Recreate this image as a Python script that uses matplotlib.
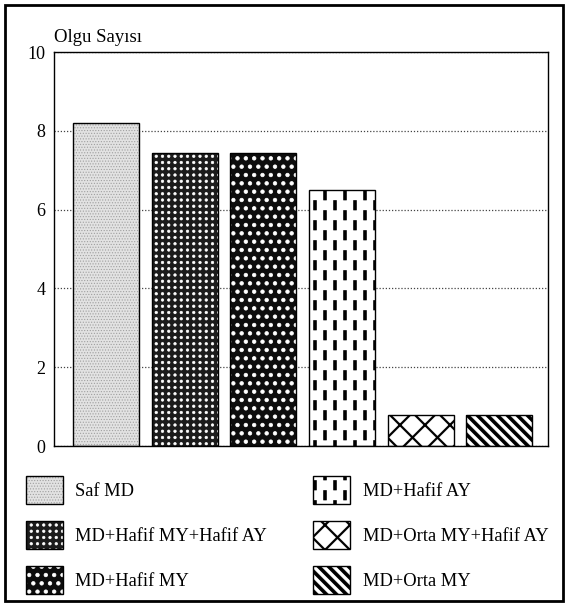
import numpy as np
import matplotlib
matplotlib.use("Agg")
import matplotlib.pyplot as plt
import matplotlib.hatch as mhatch
from matplotlib.path import Path
from matplotlib.patches import Rectangle

# data
groups = ['Saf MD', 'MD+Hafif MY+Hafif AY', 'MD+Hafif MY',
          'MD+Hafif AY', 'MD+Orta MY+Hafif AY', 'MD+Orta MY']
counts = [8.2, 7.45, 7.45, 6.5, 0.8, 0.8]
yticks = [0, 2, 4, 6, 8, 10]
ylabel = 'Olgu Sayısı'


# ---- custom hatch patterns (unit tile, filled shapes) ----
def poly(pts):
    v = np.array(list(pts) + [pts[0]], float)
    c = [Path.MOVETO] + [Path.LINETO] * (len(pts) - 1) + [Path.CLOSEPOLY]
    return v, c


def circle(x, y, r):
    uc = Path.unit_circle()
    return uc.vertices * r + (x, y), list(uc.codes)


def dots_square(n=16, r=0.0125):
    out = []
    for i in range(n + 1):
        for j in range(n + 1):
            out.append(circle(i / n, j / n, r))
    return out


def dots_stagger(n=12, r=0.018):
    out = []
    for j in range(-1, n + 2):
        off = 0.5 / n if j % 2 else 0.0
        for i in range(-1, n + 2):
            out.append(circle(i / n + off, j / n, r))
    return out


def vdashes(ncol=10, nrow=5, L=0.095, w=0.027):
    out = []
    for i in range(ncol):
        xc = (i + 0.5) / ncol
        off = 0.5 / nrow if i % 2 else 0.0
        for j in range(-1, nrow + 1):
            y0 = j / nrow + off
            out.append(poly([(xc - w / 2, y0), (xc + w / 2, y0),
                             (xc + w / 2, y0 + L), (xc - w / 2, y0 + L)]))
    return out


def band_slash(c, d):
    return poly([(c - 1, -1), (c + 2, 2), (c + d + 2, 2), (c + d - 1, -1)])


def band_back(c, d):
    return poly([(c + 1, -1), (c - 2, 2), (c + d - 2, 2), (c + d + 1, -1)])


def crossgrid(n=4, d=0.022):
    out = []
    for k in range(-2 * n, 3 * n + 1):
        out.append(band_slash(k / n - d / 2, d))
        out.append(band_back(k / n - d / 2, d))
    return out


def stripes(n=10, frac=0.42):
    out = []
    for k in range(-2 * n, 3 * n + 1):
        out.append(band_back(k / n, frac / n))
    return out


builders = {'q': dots_square, 'p': dots_stagger, '!': vdashes,
            'k': crossgrid, 'w': stripes}


class CustomHatch(mhatch.HatchPatternBase):
    def __init__(self, hatch, density):
        parts = []
        for ch, fn in builders.items():
            if ch in hatch:
                parts.extend(fn())
        if parts:
            self.verts = np.concatenate([p[0] for p in parts])
            self.codes = np.concatenate([np.asarray(p[1]) for p in parts])
            self.num_vertices = len(self.verts)
        else:
            self.num_vertices = 0

    def set_vertices_and_codes(self, vertices, codes):
        vertices[:] = self.verts
        codes[:] = self.codes


mhatch._hatch_types.append(CustomHatch)

plt.rcParams['font.family'] = ['Liberation Serif', 'DejaVu Serif']
plt.rcParams['hatch.linewidth'] = 0.5

fig = plt.figure(figsize=(5.68, 6.06), dpi=100)
ax = fig.add_axes([0.095, 0.264, 0.870, 0.650])

x = np.arange(len(groups))
w = 0.84

styles = [
    # face, hatch, hatch colour
    ('#e2e2e2', '......', '#a0a0a0'),
    ('#1c1c1c', 'q', 'white'),
    ('#0d0d0d', 'p', 'white'),
    ('white', '!', 'black'),
    ('white', 'k', 'black'),
    ('white', 'w', 'black'),
]

handles = []
for i in range(len(groups)):
    fc, h, hc = styles[i]
    b = ax.bar(x[i], counts[i], w, color=fc, edgecolor=hc, hatch=h,
               linewidth=0, zorder=2)
    e = ax.bar(x[i], counts[i], w, fill=False, edgecolor='black',
               linewidth=1.0, zorder=3)
    handles.append((b[0], e[0]))

ax.set_xlim(-0.66, 5.62)
ax.set_ylim(0, 10)
ax.set_yticks(yticks)
ax.set_xticks([])
ax.tick_params(axis='y', length=0, pad=6, labelsize=13)
for s in ax.spines.values():
    s.set_linewidth(1.0)
ax.yaxis.grid(True, linestyle=(0, (1, 1.5)), color='#444444', linewidth=0.9)
ax.set_axisbelow(True)
ax.set_title(ylabel, loc='left', fontsize=13.5, pad=7, x=0.0)

leg = fig.legend(handles, groups, ncol=2, loc='upper left',
                 bbox_to_anchor=(0.045, 0.214), frameon=False,
                 fontsize=13.3, handlelength=2.0, handleheight=1.96,
                 handletextpad=0.7, labelspacing=0.9, columnspacing=2.5,
                 borderpad=0, borderaxespad=0)

# frame around the whole figure
fig.patches.append(Rectangle((0.009, 0.008), 0.982, 0.983, fill=False,
                             edgecolor='black', linewidth=2.0,
                             transform=fig.transFigure, figure=fig))

fig.savefig('out.png', dpi=100)
